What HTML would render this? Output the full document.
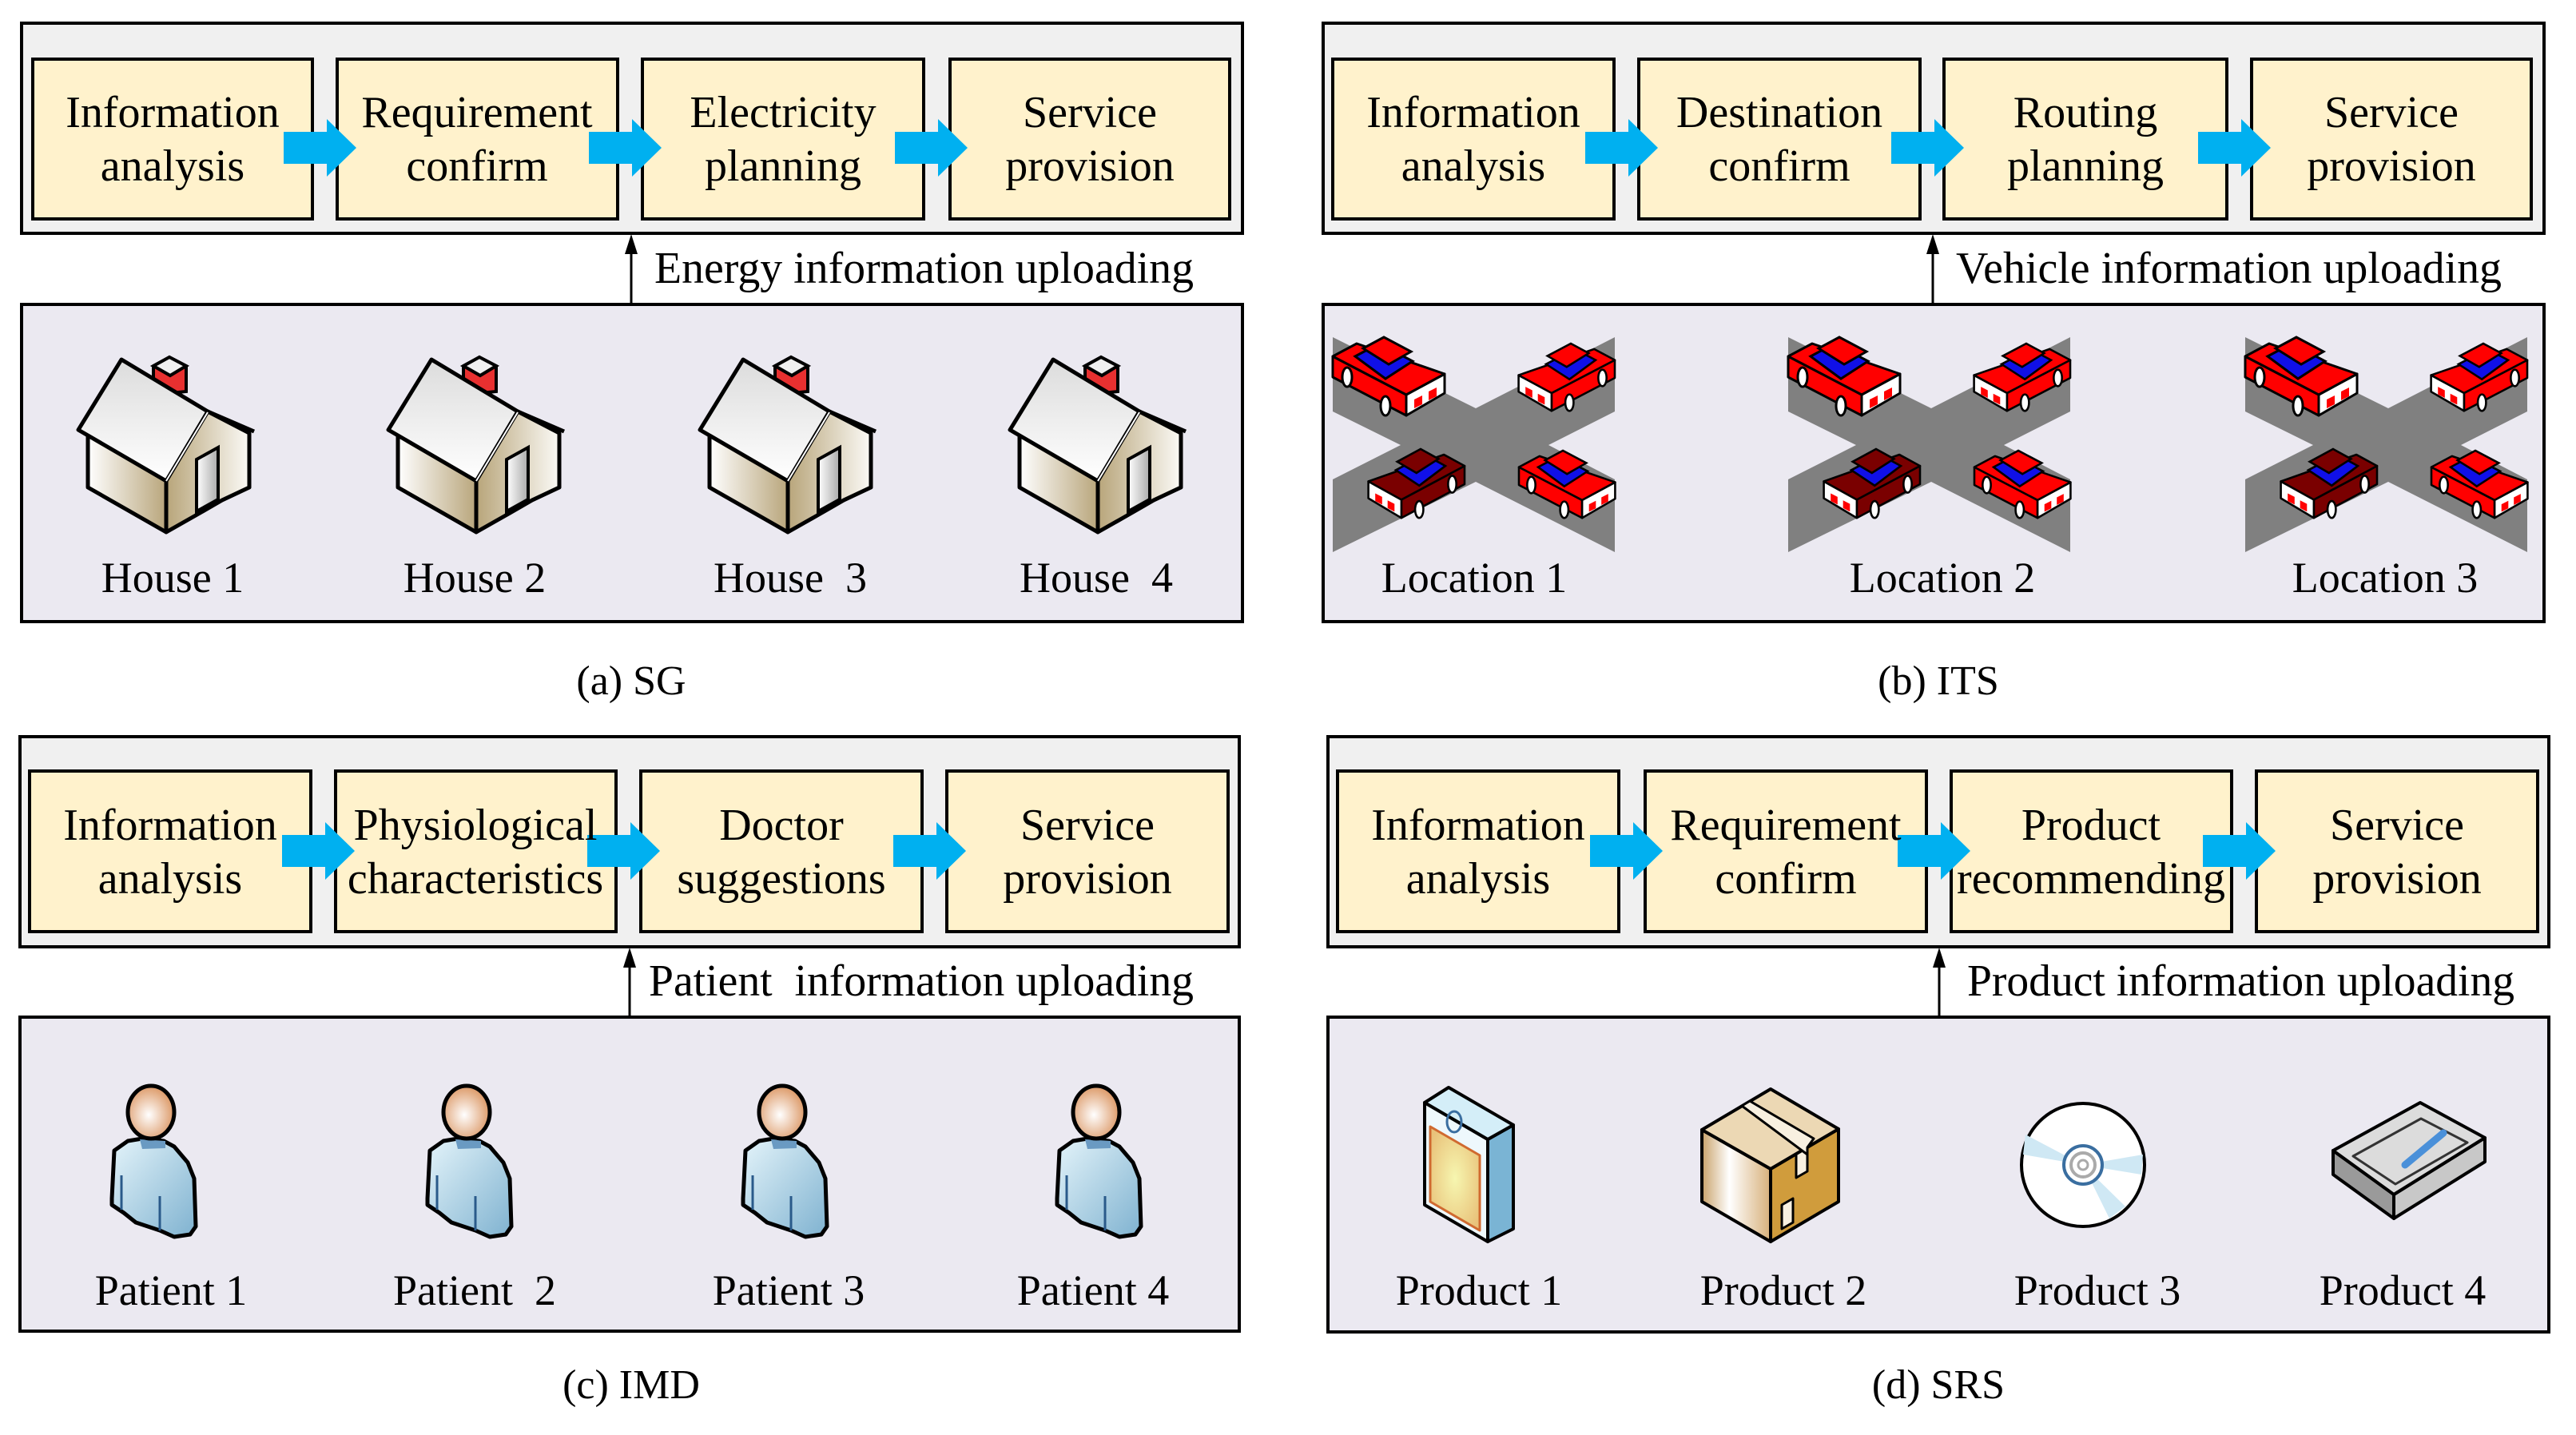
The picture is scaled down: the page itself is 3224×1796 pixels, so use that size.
<!DOCTYPE html>
<html><head><meta charset="utf-8"><style>
html,body{margin:0;padding:0;background:#fff}
svg{display:block}
text{font-family:"Liberation Serif","Noto Serif CJK SC",serif;fill:#000}
</style></head><body>
<svg width="3224" height="1796" viewBox="0 0 3224 1796" xmlns="http://www.w3.org/2000/svg">
<defs>
<linearGradient id="wallL" x1="0" x2="1"><stop offset="0" stop-color="#fff"/><stop offset="1" stop-color="#b9a67c"/></linearGradient>
<linearGradient id="wallR" x1="0" x2="1"><stop offset="0" stop-color="#b8a57a"/><stop offset="1" stop-color="#fbfaf6"/></linearGradient>
<linearGradient id="roof" x1="0" y1="0" x2="0" y2="1"><stop offset="0" stop-color="#dcdcdc"/><stop offset="1" stop-color="#fff"/></linearGradient>
<linearGradient id="door" x1="0" x2="1"><stop offset="0" stop-color="#fff"/><stop offset="1" stop-color="#aaa"/></linearGradient>
<radialGradient id="face" cx="0.45" cy="0.55" r="0.6"><stop offset="0" stop-color="#fff"/><stop offset="1" stop-color="#d9905a"/></radialGradient>
<linearGradient id="shirt" x1="0" y1="0" x2="1" y2="1"><stop offset="0" stop-color="#e4f4fa"/><stop offset="1" stop-color="#7fb2d0"/></linearGradient>
<linearGradient id="box2" x1="0" x2="1"><stop offset="0" stop-color="#c9a26a"/><stop offset="0.4" stop-color="#fff"/><stop offset="1" stop-color="#d7b07a"/></linearGradient>
<radialGradient id="yel" cx="0.5" cy="0.5" r="0.6"><stop offset="0" stop-color="#f6f6b0"/><stop offset="1" stop-color="#e9c27a"/></radialGradient>

<g id="house">
 <polygon points="30,112 128,170 128,236 30,180" fill="url(#wallL)" stroke="#000" stroke-width="5" stroke-linejoin="round"/>
 <polygon points="128,170 180,85 232,112 232,180 198,196 165,215 128,236" fill="url(#wallR)" stroke="#000" stroke-width="5" stroke-linejoin="round"/>
 <polygon points="112,28 132,17 153,28 153,60 133,62 112,45" fill="#e83030" stroke="#000" stroke-width="4"/>
 <polygon points="112,28 132,17 153,28 133,40" fill="#f0f0f0" stroke="#000" stroke-width="4"/>
 <polygon points="72,20 180,85 128,172 18,108" fill="url(#roof)" stroke="#000" stroke-width="5" stroke-linejoin="round"/>
 <line x1="180" y1="85" x2="238" y2="110" stroke="#000" stroke-width="5"/>
 <line x1="128" y1="172" x2="180" y2="86" stroke="#fff" stroke-width="2"/>
 <polygon points="166,145 193,130 193,195 166,210" fill="url(#door)" stroke="#000" stroke-width="4"/>
</g>

<g id="carbody">
 <polygon points="0,24 92,72 92,98 0,50" fill="currentColor" stroke="#000" stroke-width="3" stroke-linejoin="round"/>
 <polygon points="92,72 140,46 140,70 92,98" fill="#fff" stroke="#000" stroke-width="3" stroke-linejoin="round"/>
 <polygon points="0,24 30,8 140,46 92,72" fill="currentColor" stroke="#000" stroke-width="3" stroke-linejoin="round"/>
 <polygon points="28,24 58,8 100,30 66,52" fill="#1010e8" stroke="#000" stroke-width="3"/>
 <polygon points="38,14 64,0 98,18 70,34" fill="currentColor" stroke="#000" stroke-width="3"/>
 <polygon points="102,78 112,73 112,84 102,89" fill="#f00"/>
 <polygon points="120,68 130,63 130,74 120,79" fill="#f00"/>
 <ellipse cx="18" cy="50" rx="6" ry="12" fill="#fff" stroke="#000" stroke-width="3"/>
 <ellipse cx="66" cy="86" rx="6" ry="12" fill="#fff" stroke="#000" stroke-width="3"/>
</g>
<g id="scene">
 <polygon points="0,0 179,89 353,0 353,93 270,135 353,178 353,269 179,181 0,269 0,178 85,135 0,93" fill="#808080"/>
 <g color="#ff0000" transform="translate(0,0)"><use href="#carbody"/></g>
 <g color="#ff0000" transform="translate(353,8) scale(-0.86,0.86)"><use href="#carbody"/></g>
 <g color="#7a0000" transform="translate(165,140) scale(-0.86,0.88)"><use href="#carbody"/></g>
 <g color="#ff0000" transform="translate(233,142) scale(0.86,0.86)"><use href="#carbody"/></g>
</g>
<g id="arrow"><polygon points="0,-20 54,-20 54,-36 91,0 54,36 54,20 0,20" fill="#00b0f0"/></g>

<g id="patient">
 <path d="M43,100 L60,88 L78,85 L105,88 L118,95 L135,115 L143,135 L145,195 L138,205 L118,208 L100,200 L70,190 L55,178 L40,168 L40,160 L42,120 Z" fill="url(#shirt)" stroke="#000" stroke-width="5" stroke-linejoin="round"/>
 <path d="M75,86 L107,88 L107,97 L78,98 Z" fill="#6a9ac2"/>
 <line x1="52" y1="131" x2="52" y2="174" stroke="#2a5a8a" stroke-width="3"/>
 <line x1="100" y1="157" x2="100" y2="200" stroke="#2a5a8a" stroke-width="3"/>
 <ellipse cx="89" cy="52" rx="29" ry="33" fill="url(#face)" stroke="#000" stroke-width="5"/>
</g>
</defs>

<g stroke="#000" stroke-width="4">
 <rect x="27" y="29" width="1528" height="263" fill="#f0f0f0"/>
 <rect x="27" y="381" width="1528" height="397" fill="#ebe9f1"/>
 <rect x="1656" y="29" width="1528" height="263" fill="#f0f0f0"/>
 <rect x="1656" y="381" width="1528" height="397" fill="#ebe9f1"/>
 <rect x="25" y="922" width="1526" height="263" fill="#f0f0f0"/>
 <rect x="25" y="1273" width="1526" height="393" fill="#ebe9f1"/>
 <rect x="1662" y="922" width="1528" height="263" fill="#f0f0f0"/>
 <rect x="1662" y="1273" width="1528" height="394" fill="#ebe9f1"/>
</g>
<g stroke="#000" stroke-width="4" fill="#fff2cc">
 <rect x="41" y="74" width="350" height="200"/><rect x="422" y="74" width="351" height="200"/><rect x="804" y="74" width="352" height="200"/><rect x="1189" y="74" width="350" height="200"/>
 <rect x="1668" y="74" width="352" height="200"/><rect x="2051" y="74" width="352" height="200"/><rect x="2433" y="74" width="354" height="200"/><rect x="2818" y="74" width="350" height="200"/>
 <rect x="37" y="965" width="352" height="201"/><rect x="420" y="965" width="351" height="201"/><rect x="802" y="965" width="352" height="201"/><rect x="1185" y="965" width="352" height="201"/>
 <rect x="1674" y="965" width="352" height="201"/><rect x="2059" y="965" width="352" height="201"/><rect x="2442" y="965" width="351" height="201"/><rect x="2824" y="965" width="352" height="201"/>
</g>
<use href="#arrow" x="355" y="185"/><use href="#arrow" x="737" y="185"/><use href="#arrow" x="1120" y="185"/>
<use href="#arrow" x="1984" y="185"/><use href="#arrow" x="2367" y="185"/><use href="#arrow" x="2751" y="185"/>
<use href="#arrow" x="353" y="1065"/><use href="#arrow" x="735" y="1065"/><use href="#arrow" x="1118" y="1065"/>
<use href="#arrow" x="1990" y="1065"/><use href="#arrow" x="2375" y="1065"/><use href="#arrow" x="2757" y="1065"/>

<g font-size="56" text-anchor="middle">
 <text x="216" y="159">Information</text><text x="216" y="226">analysis</text>
 <text x="597" y="159">Requirement</text><text x="597" y="226">confirm</text>
 <text x="980" y="159">Electricity</text><text x="980" y="226">planning</text>
 <text x="1364" y="159">Service</text><text x="1364" y="226">provision</text>
 <text x="1844" y="159">Information</text><text x="1844" y="226">analysis</text>
 <text x="2227" y="159">Destination</text><text x="2227" y="226">confirm</text>
 <text x="2610" y="159">Routing</text><text x="2610" y="226">planning</text>
 <text x="2993" y="159">Service</text><text x="2993" y="226">provision</text>
 <text x="213" y="1051">Information</text><text x="213" y="1118">analysis</text>
 <text x="595" y="1051">Physiological</text><text x="595" y="1118">characteristics</text>
 <text x="978" y="1051">Doctor</text><text x="978" y="1118">suggestions</text>
 <text x="1361" y="1051">Service</text><text x="1361" y="1118">provision</text>
 <text x="1850" y="1051">Information</text><text x="1850" y="1118">analysis</text>
 <text x="2235" y="1051">Requirement</text><text x="2235" y="1118">confirm</text>
 <text x="2617" y="1051">Product</text><text x="2617" y="1118">recommending</text>
 <text x="3000" y="1051">Service</text><text x="3000" y="1118">provision</text>
</g>

<g stroke="#000" stroke-width="3">
 <line x1="790" y1="381" x2="790" y2="300"/><line x1="2419" y1="381" x2="2419" y2="300"/>
 <line x1="788" y1="1273" x2="788" y2="1193"/><line x1="2427" y1="1273" x2="2427" y2="1193"/>
</g>
<g fill="#000">
 <polygon points="790,293 782,318 798,318"/><polygon points="2419,293 2411,318 2427,318"/>
 <polygon points="788,1186 780,1211 796,1211"/><polygon points="2427,1186 2419,1211 2435,1211"/>
</g>
<g font-size="56">
 <text x="819" y="354" textLength="675" lengthAdjust="spacingAndGlyphs">Energy information uploading</text>
 <text x="2448" y="354" textLength="683" lengthAdjust="spacingAndGlyphs">Vehicle information uploading</text>
 <text x="812" y="1246" textLength="682" lengthAdjust="spacingAndGlyphs" xml:space="preserve">Patient  information uploading</text>
 <text x="2462" y="1246" textLength="685" lengthAdjust="spacingAndGlyphs">Product information uploading</text>
</g>

<use href="#house" x="80" y="430"/><use href="#house" x="468" y="430"/><use href="#house" x="858" y="430"/><use href="#house" x="1246" y="430"/>
<use href="#scene" x="1668" y="422"/><use href="#scene" x="2238" y="422"/><use href="#scene" x="2810" y="422"/>
<use href="#patient" x="100" y="1340"/><use href="#patient" x="495" y="1340"/><use href="#patient" x="890" y="1340"/><use href="#patient" x="1283" y="1340"/>

<g stroke-linejoin="round">
 <polygon points="1783,1380 1862,1426 1862,1554 1783,1508" fill="#eef8fc" stroke="#000" stroke-width="4"/>
 <polygon points="1790,1410 1852,1446 1852,1540 1790,1504" fill="url(#yel)" stroke="#d06a30" stroke-width="3"/>
 <polygon points="1862,1426 1894,1408 1894,1538 1862,1554" fill="#7ab4d4" stroke="#000" stroke-width="4"/>
 <polygon points="1813,1361 1894,1408 1862,1426 1783,1380" fill="#d4eef8" stroke="#000" stroke-width="4"/>
 <ellipse cx="1820" cy="1404" rx="9" ry="13" fill="none" stroke="#3a6ea0" stroke-width="3"/>

 <polygon points="2130,1414 2216,1463 2216,1554 2130,1504" fill="url(#box2)" stroke="#000" stroke-width="4"/>
 <polygon points="2216,1463 2301,1413 2301,1504 2216,1554" fill="#d09c3c" stroke="#000" stroke-width="4"/>
 <polygon points="2248,1444 2262,1436 2262,1466 2248,1474" fill="#f8f0e0" stroke="#000" stroke-width="3"/>
 <polygon points="2230,1508 2244,1500 2244,1530 2230,1538" fill="#f8f0e0" stroke="#000" stroke-width="3"/>
 <polygon points="2216,1363 2301,1413 2216,1463 2130,1414" fill="#ecd8b4" stroke="#000" stroke-width="4"/>
 <polygon points="2180,1384 2190,1378 2270,1425 2262,1436 2262,1445" fill="#f8f0e0" stroke="#000" stroke-width="3"/>

 <circle cx="2607" cy="1458" r="77" fill="#fff" stroke="#000" stroke-width="4"/>
 <path d="M2607,1458 L2535,1420 L2532,1445 Z M2607,1458 L2680,1470 L2682,1445 Z M2607,1458 L2640,1525 L2660,1510 Z" fill="#cfe8f4"/>
 <circle cx="2607" cy="1458" r="24" fill="#fff" stroke="#3a6ea0" stroke-width="4"/>
 <circle cx="2607" cy="1458" r="15" fill="none" stroke="#aaa" stroke-width="4"/>
 <circle cx="2607" cy="1458" r="6" fill="none" stroke="#aaa" stroke-width="3"/>

 <polygon points="2920,1440 2996,1495 2996,1525 2920,1470" fill="#9a9a9a" stroke="#000" stroke-width="4"/>
 <polygon points="2996,1495 3110,1424 3110,1454 2996,1525" fill="#c8c8c8" stroke="#000" stroke-width="4"/>
 <polygon points="3029,1380 3110,1424 2996,1495 2920,1440" fill="#dcdcdc" stroke="#000" stroke-width="4"/>
 <polygon points="3030,1400 3088,1430 2998,1482 2945,1447" fill="none" stroke="#333" stroke-width="3"/>
 <path d="M3058,1418 L3010,1458" stroke="#4a90d9" stroke-width="9" stroke-linecap="round"/>
</g>

<g font-size="54" text-anchor="middle">
 <text x="216" y="741">House 1</text><text x="594" y="741">House 2</text><text x="989" y="741" xml:space="preserve">House  3</text><text x="1372" y="741" xml:space="preserve">House  4</text>
 <text x="1845" y="741">Location 1</text><text x="2431" y="741">Location 2</text><text x="2985" y="741">Location 3</text>
 <text x="214" y="1633">Patient 1</text><text x="594" y="1633" xml:space="preserve">Patient  2</text><text x="987" y="1633">Patient 3</text><text x="1368" y="1633">Patient 4</text>
 <text x="1851" y="1633">Product 1</text><text x="2232" y="1633">Product 2</text><text x="2625" y="1633">Product 3</text><text x="3007" y="1633">Product 4</text>
</g>
<g font-size="52" text-anchor="middle">
 <text x="790" y="869">(a) SG</text><text x="2426" y="869">(b) ITS</text>
 <text x="790" y="1750">(c) IMD</text><text x="2426" y="1750">(d) SRS</text>
</g>
</svg>
</body></html>
